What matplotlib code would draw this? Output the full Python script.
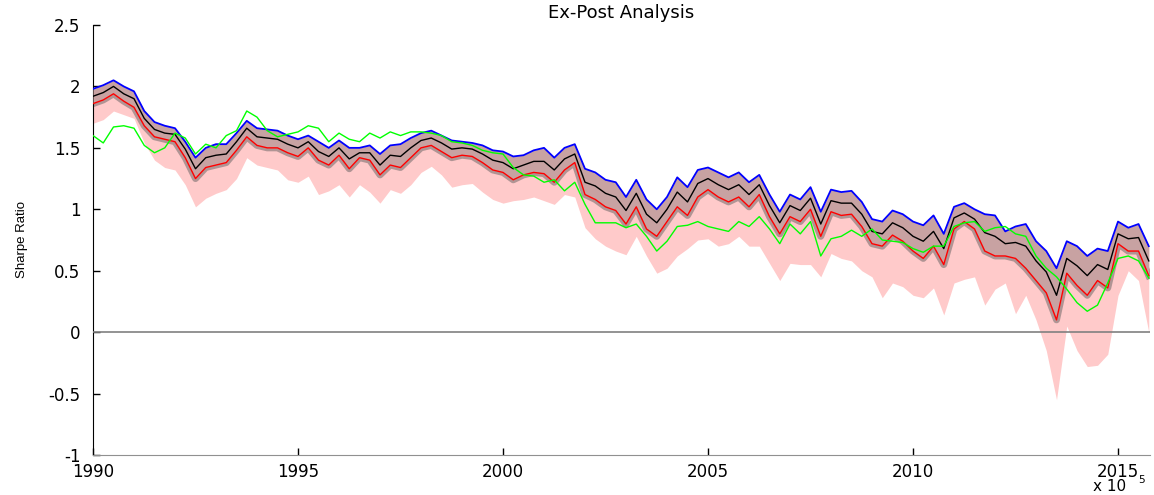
import numpy as np
import matplotlib
matplotlib.use('Agg')
import matplotlib.pyplot as plt

# quarterly dates, 1990 .. 2015.75
years = np.arange(1990.0, 2016.0, 0.25)

# upper bound (blue)
upper = [1.98, 2.01, 2.05, 2.00, 1.96, 1.80, 1.71, 1.68, 1.66, 1.55, 1.42, 1.50,
         1.53, 1.53, 1.62, 1.72, 1.66, 1.65, 1.64, 1.60, 1.57, 1.60, 1.55, 1.50,
         1.56, 1.50, 1.50, 1.52, 1.45, 1.52, 1.53, 1.58, 1.62, 1.64, 1.60, 1.56,
         1.55, 1.54, 1.52, 1.48, 1.47, 1.43, 1.44, 1.48, 1.50, 1.42, 1.50, 1.53,
         1.33, 1.30, 1.24, 1.22, 1.10, 1.24, 1.08, 1.00, 1.10, 1.26, 1.18, 1.32,
         1.34, 1.30, 1.26, 1.30, 1.22, 1.28, 1.12, 0.98, 1.12, 1.08, 1.18, 0.98,
         1.16, 1.14, 1.15, 1.06, 0.92, 0.90, 0.99, 0.96, 0.90, 0.87, 0.95, 0.80,
         1.02, 1.05, 1.00, 0.96, 0.95, 0.82, 0.86, 0.88, 0.74, 0.66, 0.52, 0.74,
         0.70, 0.62, 0.68, 0.66, 0.90, 0.85, 0.88, 0.70]

# central estimate (black)
middle = [1.92, 1.95, 2.00, 1.94, 1.90, 1.74, 1.65, 1.62, 1.61, 1.49, 1.33, 1.42,
          1.44, 1.45, 1.55, 1.66, 1.59, 1.58, 1.57, 1.53, 1.50, 1.55, 1.47, 1.43,
          1.50, 1.41, 1.46, 1.46, 1.36, 1.44, 1.43, 1.50, 1.56, 1.58, 1.54, 1.49,
          1.50, 1.49, 1.45, 1.40, 1.38, 1.33, 1.36, 1.39, 1.39, 1.32, 1.41, 1.45,
          1.22, 1.19, 1.13, 1.10, 0.99, 1.13, 0.96, 0.89, 1.00, 1.14, 1.06, 1.21,
          1.25, 1.20, 1.16, 1.20, 1.12, 1.20, 1.03, 0.89, 1.03, 0.99, 1.09, 0.88,
          1.07, 1.05, 1.05, 0.96, 0.82, 0.80, 0.89, 0.85, 0.78, 0.74, 0.82, 0.68,
          0.93, 0.97, 0.92, 0.81, 0.78, 0.72, 0.73, 0.70, 0.58, 0.49, 0.30, 0.60,
          0.54, 0.46, 0.55, 0.51, 0.80, 0.76, 0.77, 0.58]

# lower estimate (red)
lower = [1.86, 1.89, 1.94, 1.88, 1.83, 1.68, 1.59, 1.57, 1.55, 1.42, 1.25, 1.34,
         1.36, 1.38, 1.48, 1.59, 1.52, 1.50, 1.50, 1.46, 1.43, 1.50, 1.40, 1.36,
         1.44, 1.33, 1.42, 1.40, 1.28, 1.36, 1.34, 1.42, 1.50, 1.52, 1.47, 1.42,
         1.44, 1.43, 1.38, 1.32, 1.30, 1.24, 1.28, 1.30, 1.29, 1.22, 1.32, 1.38,
         1.12, 1.08, 1.02, 0.99, 0.88, 1.02, 0.84, 0.78, 0.90, 1.02, 0.95, 1.10,
         1.16, 1.10, 1.06, 1.10, 1.02, 1.12, 0.94, 0.80, 0.94, 0.90, 1.00, 0.78,
         0.98, 0.95, 0.96, 0.86, 0.72, 0.70, 0.79, 0.74, 0.66, 0.60, 0.70, 0.55,
         0.84, 0.90, 0.84, 0.66, 0.62, 0.62, 0.60, 0.52, 0.42, 0.32, 0.10, 0.48,
         0.38, 0.30, 0.42, 0.36, 0.72, 0.66, 0.66, 0.46]

# worst case (bottom of pink band)
worst = [1.70, 1.73, 1.80, 1.77, 1.74, 1.54, 1.40, 1.34, 1.32, 1.20, 1.02, 1.09,
         1.13, 1.16, 1.25, 1.42, 1.36, 1.34, 1.32, 1.24, 1.22, 1.27, 1.12, 1.15,
         1.20, 1.10, 1.20, 1.14, 1.05, 1.16, 1.13, 1.20, 1.30, 1.35, 1.28, 1.18,
         1.20, 1.21, 1.14, 1.08, 1.05, 1.07, 1.08, 1.10, 1.07, 1.04, 1.12, 1.10,
         0.85, 0.76, 0.70, 0.66, 0.63, 0.78, 0.62, 0.48, 0.52, 0.62, 0.68, 0.75,
         0.76, 0.70, 0.72, 0.78, 0.70, 0.70, 0.56, 0.42, 0.56, 0.55, 0.55, 0.45,
         0.64, 0.60, 0.58, 0.50, 0.45, 0.28, 0.40, 0.37, 0.30, 0.28, 0.36, 0.14,
         0.40, 0.43, 0.45, 0.22, 0.35, 0.40, 0.15, 0.30, 0.10, -0.15, -0.55, 0.05,
         -0.15, -0.28, -0.27, -0.18, 0.30, 0.50, 0.42, 0.00]

# ex-post realised (green)
realised = [1.60, 1.54, 1.67, 1.68, 1.66, 1.52, 1.46, 1.50, 1.62, 1.58, 1.45, 1.53,
            1.50, 1.60, 1.64, 1.80, 1.75, 1.64, 1.59, 1.61, 1.63, 1.68, 1.66, 1.55,
            1.62, 1.57, 1.55, 1.62, 1.58, 1.63, 1.60, 1.63, 1.63, 1.62, 1.60, 1.55,
            1.54, 1.52, 1.48, 1.46, 1.45, 1.34, 1.28, 1.27, 1.22, 1.24, 1.15, 1.22,
            1.04, 0.89, 0.89, 0.89, 0.85, 0.88, 0.78, 0.66, 0.74, 0.86, 0.87, 0.90,
            0.86, 0.84, 0.82, 0.90, 0.86, 0.94, 0.84, 0.72, 0.88, 0.80, 0.90, 0.62,
            0.76, 0.78, 0.83, 0.78, 0.84, 0.75, 0.74, 0.73, 0.68, 0.65, 0.70, 0.70,
            0.86, 0.89, 0.90, 0.82, 0.85, 0.86, 0.80, 0.78, 0.62, 0.52, 0.45, 0.35,
            0.24, 0.17, 0.22, 0.40, 0.60, 0.62, 0.58, 0.44]

fig = plt.figure(figsize=(11.54, 4.95), dpi=100)
ax = fig.add_axes([93/1154, 40/495, 1057/1154, 430/495])

ax.fill_between(years, worst, upper, color='#ffcaca', lw=0, zorder=1)
ax.plot(years, lower, color='#b09494', lw=5, zorder=2)
ax.fill_between(years, lower, upper, color='#c8a2a2', lw=0, zorder=3)
ax.axhline(0, color='#808080', lw=1.2, zorder=4)
ax.plot(years, middle, color='k', lw=1, zorder=5)
ax.plot(years, lower, color='#ff0000', lw=1, zorder=5)
ax.plot(years, upper, color='#0000ff', lw=1.3, zorder=5)
ax.plot(years, realised, color='#00ff00', lw=1, zorder=6)

ax.set_xlim(1990, 2015.78)
ax.set_ylim(-1, 2.5)
ax.set_xticks([1990, 1995, 2000, 2005, 2010, 2015])
ax.set_xticklabels(['1990', '1995', '2000', '2005', '2010', '2015'])
ax.set_yticks([-1, -0.5, 0, 0.5, 1, 1.5, 2, 2.5])
ax.set_yticklabels(['-1', '-0.5', '0', '0.5', '1', '1.5', '2', '2.5'])
ax.tick_params(direction='in', length=5, width=1, labelsize=12, colors='k')
ax.tick_params(axis='x', pad=5.5)
ax.tick_params(axis='y', pad=9)
for s in ['top', 'right']:
    ax.spines[s].set_visible(False)
ax.spines['left'].set_color('k')
ax.spines['bottom'].set_color('#909090')

ax.set_title('Ex-Post Analysis', fontsize=13, pad=5)
ax.set_ylabel('Sharpe Ratio', fontsize=9.5, family='Liberation Sans', labelpad=15)

fig.text(1093/1154, 1 - 494/495, 'x 10', fontsize=11, ha='left', va='bottom')
fig.text(1138/1154, 1 - 485/495, '5', fontsize=7.5, ha='left', va='bottom')

fig.savefig('out.png', dpi=100)
